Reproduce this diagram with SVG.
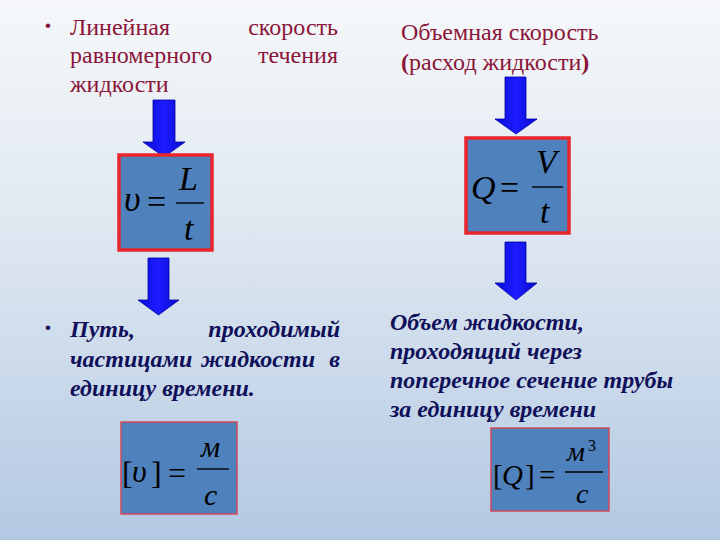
<svg xmlns="http://www.w3.org/2000/svg" width="720" height="540" viewBox="0 0 720 540">
<defs>
<linearGradient id="bg" x1="0" y1="0" x2="0" y2="1">
<stop offset="0" stop-color="#f6f8fa"/>
<stop offset="0.45" stop-color="#dde6f0"/>
<stop offset="1" stop-color="#b3c9e3"/>
</linearGradient>
<linearGradient id="arr" x1="0" y1="0" x2="1" y2="0">
<stop offset="0" stop-color="#0a0ad8"/>
<stop offset="0.5" stop-color="#1c1cff"/>
<stop offset="1" stop-color="#0a0ad0"/>
</linearGradient>
</defs>
<style>
.t1{font-family:"Liberation Serif","DejaVu Serif",serif;font-size:24px;fill:#8a1538}
.t2{font-family:"Liberation Serif","DejaVu Serif",serif;font-size:24px;font-weight:bold;font-style:italic;fill:#10105a}
.bul{font-family:"Liberation Sans",Arial,sans-serif;font-size:17px}
.box{fill:#4f81bd;stroke:#e8262b;stroke-width:3.5}
.box2{fill:#4f81bd;stroke:#d0485a;stroke-width:1.5}
.m{font-family:"Liberation Serif","DejaVu Serif",serif;font-style:italic;fill:#000}
.mo{font-family:"Liberation Serif","DejaVu Serif",serif;fill:#000}
.arrow{fill:url(#arr);stroke:#0000a0;stroke-width:0.8}
.bar{stroke:#000;stroke-width:1.4}
</style>
<rect width="720" height="540" fill="url(#bg)"/>

<g id="label-linear">
<text class="bul" x="45" y="31" fill="#8a1538">•</text>
<text class="t1" x="70" y="35">Линейная</text>
<text class="t1" x="338" y="35" text-anchor="end">скорость</text>
<text class="t1" x="70" y="63">равномерного</text>
<text class="t1" x="338" y="63" text-anchor="end">течения</text>
<text class="t1" x="70" y="92">жидкости</text>
</g>

<g id="label-volume">
<text class="t1" x="401" y="40">Объемная скорость</text>
<text class="t1" x="401" y="70"><tspan font-weight="bold">(</tspan>расход жидкости<tspan font-weight="bold">)</tspan></text>
</g>

<g id="connectors">
<polygon class="arrow" points="153,100 175,100 175,142 185,142 164,157 143,142 153,142"/>
<polygon class="arrow" points="148,258 169,258 169,300 179,300 158.5,315 138,300 148,300"/>
<polygon class="arrow" points="505,77 526,77 526,119 537,119 516,134 495,119 505,119"/>
<polygon class="arrow" points="505,242 526,242 526,283 537,283 516,300 495,283 505,283"/>
</g>

<g id="formula-v">
<rect class="box" x="119" y="155" width="93" height="95"/>
<text class="m" x="124" y="211" font-size="36">υ</text>
<text class="mo" x="147" y="213" font-size="34">=</text>
<line class="bar" x1="176" y1="203" x2="204" y2="203"/>
<text class="m" x="179" y="190" font-size="34">L</text>
<text class="m" x="184" y="240" font-size="34">t</text>
</g>

<g id="formula-q">
<rect class="box" x="466" y="138" width="103" height="95"/>
<text class="m" x="471" y="199" font-size="34">Q</text>
<text class="mo" x="500" y="199" font-size="34">=</text>
<line class="bar" x1="532" y1="187" x2="563" y2="187"/>
<text class="m" x="536" y="173" font-size="34">V</text>
<text class="m" x="540" y="223" font-size="34">t</text>
</g>

<g id="desc-path">
<text class="bul" x="45" y="333" fill="#10105a">•</text>
<text class="t2" x="70" y="337">Путь,</text>
<text class="t2" x="340" y="337" text-anchor="end">проходимый</text>
<text class="t2" x="70" y="367">частицами</text>
<text class="t2" x="201" y="367">жидкости</text>
<text class="t2" x="340" y="367" text-anchor="end">в</text>
<text class="t2" x="70" y="396">единицу времени.</text>
</g>

<g id="desc-volume">
<text class="t2" x="390" y="330">Объем жидкости,</text>
<text class="t2" x="390" y="359">проходящий через</text>
<text class="t2" x="390" y="388">поперечное сечение трубы</text>
<text class="t2" x="390" y="417">за единицу времени</text>
</g>

<g id="unit-v">
<rect class="box2" x="121" y="422" width="116" height="92"/>
<text class="mo" x="122" y="484" font-size="32">[</text>
<text class="m" x="132" y="482" font-size="32">υ</text>
<text class="mo" x="151" y="484" font-size="32">]</text>
<text class="mo" x="168" y="484" font-size="32">=</text>
<line class="bar" x1="197" y1="469" x2="229" y2="469"/>
<text class="m" x="201" y="457" font-size="30">м</text>
<text class="m" x="204" y="505" font-size="30">с</text>
</g>

<g id="unit-q">
<rect class="box2" x="491" y="428" width="118" height="83"/>
<text class="mo" x="493" y="485" font-size="29">[</text>
<text class="m" x="502" y="485" font-size="29">Q</text>
<text class="mo" x="525" y="485" font-size="29">]</text>
<text class="mo" x="539" y="485" font-size="29">=</text>
<line class="bar" x1="565" y1="472" x2="603" y2="472"/>
<text class="m" x="567" y="461" font-size="28">м</text>
<text class="mo" x="588" y="451" font-size="16">3</text>
<text class="m" x="576" y="503" font-size="28">с</text>
</g>
</svg>
